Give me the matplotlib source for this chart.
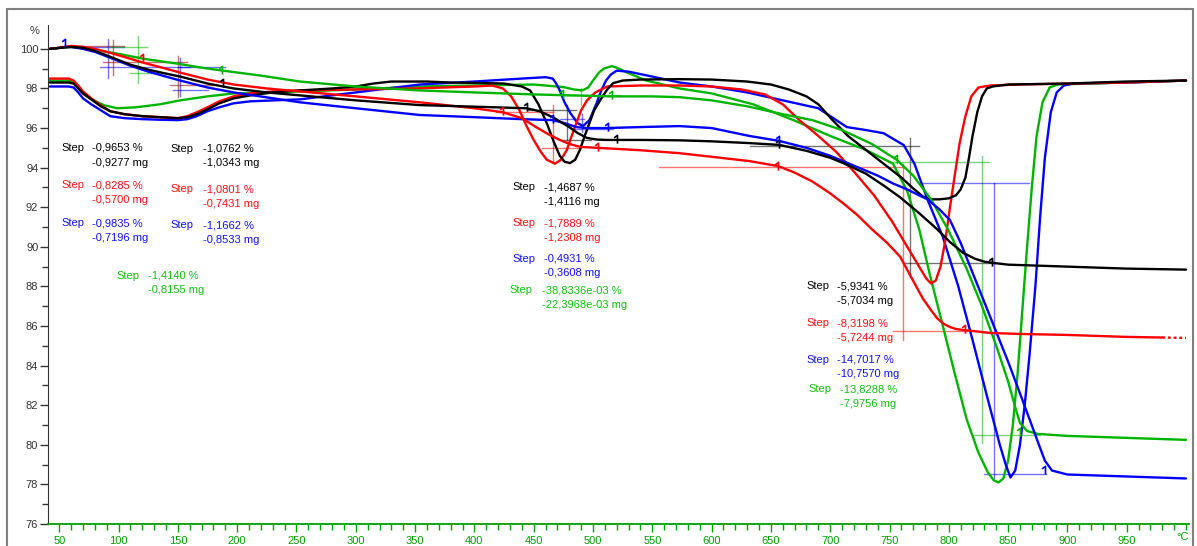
import matplotlib
matplotlib.use('Agg')
import matplotlib.pyplot as plt
from matplotlib.patches import Rectangle
from matplotlib.path import Path

# --- data (temperature in degC, mass in %) ---
# TGA curves
tga_black_t = [42, 50, 60, 70, 80, 93, 110, 125, 140, 152, 175, 197, 225, 253, 300, 354, 400, 444, 455, 466, 473, 480, 487, 495, 503, 511, 540, 573, 600, 632, 657, 680, 700, 711, 730, 745, 759, 775, 790, 801, 812, 822, 830, 836, 850, 900, 950, 1000]
tga_black_y = [100.0, 100.05, 100.1, 100.05, 99.9, 99.6, 99.2, 98.95, 98.75, 98.6, 98.25, 98.0, 97.8, 97.65, 97.4, 97.16, 97.08, 97.0, 96.85, 96.55, 96.3, 96.05, 95.75, 95.5, 95.42, 95.4, 95.4, 95.38, 95.33, 95.24, 95.15, 94.85, 94.5, 94.23, 93.7, 93.1, 92.5, 91.7, 90.9, 90.24, 89.7, 89.4, 89.25, 89.2, 89.1, 89.0, 88.9, 88.85]

tga_red_t = [42, 50, 60, 70, 80, 93, 110, 121, 140, 152, 175, 197, 225, 253, 300, 354, 400, 424, 440, 452, 462, 472, 480, 489, 504, 540, 573, 600, 632, 656, 670, 685, 700, 711, 723, 735, 748, 759, 768, 778, 785, 790, 796, 801, 806, 812, 820, 835, 860, 900, 950, 980, 1000]
tga_red_y = [100.0, 100.05, 100.15, 100.1, 100.0, 99.8, 99.5, 99.3, 99.0, 98.8, 98.45, 98.2, 98.0, 97.85, 97.6, 97.3, 97.0, 96.8, 96.5, 96.05, 95.7, 95.4, 95.2, 95.05, 95.0, 94.88, 94.73, 94.55, 94.33, 94.08, 93.75, 93.3, 92.7, 92.2, 91.6, 90.9, 90.2, 89.5, 88.5, 87.4, 86.8, 86.4, 86.1, 85.95, 85.85, 85.8, 85.75, 85.65, 85.6, 85.55, 85.45, 85.42, 85.4]

tga_blue_t = [42, 50, 55, 60, 70, 80, 93, 110, 125, 140, 152, 175, 197, 225, 253, 300, 354, 400, 440, 466, 476, 486, 495, 511, 540, 573, 600, 632, 657, 680, 700, 720, 740, 753, 765, 775, 782, 792, 801, 810, 820, 830, 840, 850, 860, 868, 876, 881, 887, 900, 950, 1000]
tga_blue_y = [100.0, 100.05, 100.1, 100.1, 100.0, 99.85, 99.55, 99.15, 98.85, 98.6, 98.4, 98.05, 97.8, 97.55, 97.3, 97.0, 96.66, 96.55, 96.45, 96.4, 96.25, 96.05, 96.0, 96.0, 96.05, 96.1, 96.0, 95.6, 95.35, 95.0, 94.6, 94.1, 93.6, 93.2, 92.9, 92.6, 92.4, 91.9, 91.35, 90.2, 88.7, 87.2, 85.7, 84.2, 82.6, 81.3, 80.0, 79.2, 78.7, 78.5, 78.4, 78.3]

tga_green_t = [42, 50, 60, 70, 80, 100, 121, 150, 170, 188, 220, 253, 300, 354, 400, 450, 475, 516, 550, 573, 600, 630, 660, 685, 710, 735, 756, 770, 785, 800, 815, 828, 840, 850, 856, 860, 866, 875, 900, 950, 1000]
tga_green_y = [100.0, 100.05, 100.1, 100.05, 99.95, 99.75, 99.5, 99.25, 99.05, 98.9, 98.65, 98.35, 98.1, 97.9, 97.8, 97.7, 97.66, 97.6, 97.6, 97.56, 97.4, 97.1, 96.7, 96.4, 95.9, 95.2, 94.4, 93.6, 92.4, 90.8, 88.9, 87.0, 85.0, 83.2, 81.9, 81.1, 80.7, 80.55, 80.45, 80.35, 80.25]

# derivative curves
dtg_black_t = [42, 50, 58, 62, 66, 70, 77, 85, 93, 105, 120, 135, 150, 158, 166, 175, 185, 197, 211, 230, 253, 280, 300, 315, 330, 360, 380, 400, 425, 440, 447, 454, 461, 467, 472, 476, 480.6, 485, 489, 493, 497, 501, 506, 512, 517, 525, 540, 573, 600, 630, 650, 665, 680, 690, 702, 715, 730, 745, 760, 770, 778, 784, 792, 800, 806, 810, 814, 817, 820, 824, 828, 832, 837, 850, 900, 950, 1000]
dtg_black_y = [98.3, 98.3, 98.3, 98.25, 98.0, 97.75, 97.45, 97.1, 96.85, 96.7, 96.6, 96.55, 96.5, 96.55, 96.7, 96.95, 97.25, 97.5, 97.65, 97.8, 97.9, 98.0, 98.1, 98.25, 98.35, 98.35, 98.3, 98.28, 98.25, 98.1, 97.9, 97.2, 96.25, 95.3, 94.6, 94.3, 94.23, 94.4, 94.9, 95.6, 96.25, 96.9, 97.4, 97.95, 98.27, 98.4, 98.45, 98.47, 98.45, 98.35, 98.2, 97.95, 97.6, 97.2, 96.4, 95.6, 94.9, 94.2, 93.5, 92.95, 92.55, 92.4, 92.4, 92.45, 92.6, 92.9, 93.5, 94.5, 95.6, 96.8, 97.6, 98.0, 98.1, 98.2, 98.25, 98.35, 98.4]

dtg_red_t = [42, 58, 62, 66, 70, 77, 85, 93, 105, 120, 135, 150, 158, 166, 175, 185, 197, 211, 230, 253, 300, 350, 400, 415, 424, 431, 438, 444, 450, 456, 461, 468, 473, 478, 482, 486, 490, 495, 502, 512, 540, 573, 600, 625, 645, 660, 674, 690, 705, 720, 737, 752, 765, 775, 781, 785, 789, 793, 797, 801, 805, 809, 814, 819, 825, 835, 860, 950, 1000]
dtg_red_y = [98.5, 98.5, 98.4, 98.15, 97.85, 97.5, 97.15, 96.85, 96.7, 96.6, 96.55, 96.5, 96.6, 96.8, 97.05, 97.35, 97.6, 97.75, 97.85, 97.9, 97.95, 98.0, 98.1, 98.15, 98.0, 97.6, 96.9, 96.1, 95.4, 94.8, 94.4, 94.2, 94.4, 94.9, 95.6, 96.25, 96.9, 97.4, 97.8, 98.1, 98.15, 98.15, 98.1, 97.95, 97.7, 97.2, 96.4, 95.6, 94.8, 93.8, 92.6, 91.3, 90.0, 89.0, 88.4, 88.15, 88.3, 89.0, 90.3, 92.0, 93.6, 95.2, 96.6, 97.6, 98.05, 98.15, 98.2, 98.3, 98.4]

dtg_blue_t = [42, 58, 62, 66, 70, 77, 85, 93, 105, 120, 135, 150, 158, 166, 175, 185, 197, 211, 253, 300, 354, 400, 440, 460, 466, 469, 472, 476, 481, 487, 491.6, 497, 503, 507, 511, 515, 520, 530, 550, 573, 600, 630, 660, 690, 714, 730, 745, 762, 771, 782, 795, 808, 820, 832, 843, 848, 852, 856, 860, 864, 868, 873, 877, 881, 886, 891, 897, 905, 950, 1000]
dtg_blue_y = [98.1, 98.1, 98.05, 97.8, 97.5, 97.2, 96.9, 96.6, 96.5, 96.45, 96.42, 96.4, 96.45, 96.6, 96.85, 97.05, 97.25, 97.35, 97.45, 97.8, 98.2, 98.35, 98.5, 98.57, 98.5, 98.25, 97.9, 97.3, 96.75, 96.25, 96.1, 96.4, 97.25, 97.9, 98.4, 98.7, 98.9, 98.85, 98.6, 98.3, 98.1, 97.8, 97.4, 97.0, 96.05, 95.9, 95.74, 95.14, 94.2, 92.4, 90.5, 88.0, 85.3, 82.5, 80.0, 79.0, 78.35, 78.7, 80.0, 82.0, 84.5, 88.0, 91.5, 94.5, 96.8, 97.8, 98.15, 98.25, 98.3, 98.4]

dtg_green_t = [42, 58, 62, 66, 70, 77, 88, 99, 115, 135, 152, 175, 197, 253, 300, 354, 400, 450, 475, 484, 491, 496, 500, 505, 509, 516, 522, 529, 545, 573, 600, 635, 669, 700, 730, 753, 765, 775, 784, 795, 805, 815, 825, 833, 838, 842, 846, 850, 854, 858, 862, 866, 870, 874, 879, 885, 892, 950, 1000]
dtg_green_y = [98.4, 98.4, 98.3, 98.05, 97.75, 97.45, 97.15, 97.0, 97.05, 97.2, 97.4, 97.6, 97.75, 97.85, 97.95, 98.1, 98.15, 98.2, 98.07, 97.95, 97.9, 98.05, 98.4, 98.8, 99.0, 99.13, 99.0, 98.8, 98.4, 98.0, 97.75, 97.2, 96.4, 95.6, 94.9, 94.2, 92.8, 90.9, 88.6, 86.0, 83.6, 81.3, 79.6, 78.6, 78.2, 78.1, 78.3, 79.2, 81.0, 83.6, 86.8, 90.0, 93.0, 95.6, 97.3, 98.05, 98.2, 98.3, 98.4]

colors = {'black': '#000000', 'red': '#ff0000', 'blue': '#0000ff', 'green': '#00b400'}
text_colors = {'black': '#000000', 'red': '#ff1010', 'blue': '#1010ff', 'green': '#10c010'}

# step evaluation crosses: (colour, t_vert, y_top, y_bot, [(t_from, t_to, level), ...])
steps = [
    ('blue', 91, 100.5, 98.55, [(50.6, 105, 100.1), (84, 160, 99.08)]),
    ('darkred', 95, 100.45, 98.7, [(50.6, 105, 100.12), (87, 158, 99.33)]),
    ('green', 116, 100.65, 98.3, [(93, 124, 100.1), (110, 141, 98.78)]),
    ('darkred', 150, 99.63, 97.56, [(143, 180, 98.17)]),
    ('blue', 152, 99.55, 97.6, [(146, 175, 97.92), (150, 190, 99.1)]),
    ('black', 478, 97.15, 95.4, [(444, 486, 96.9), (472, 498, 95.4)]),
    ('red', 466, 97.15, 94.3, [(418, 466, 96.8), (457, 490, 95.0)]),
    ('blue', 491, 96.7, 95.8, [(472, 492, 96.45), (484, 517, 95.95)]),
    ('green', 490, 98.0, 97.15, [(475, 523, 97.66)]),
    ('black', 767, 95.5, 88.5, [(632, 775, 95.09), (761, 839, 89.17)]),
    ('red', 761, 94.2, 85.3, [(556, 763, 94.03), (753, 815, 85.73)]),
    ('green', 828, 94.6, 80.1, [(749, 834, 94.28), (820, 877, 80.5)]),
    ('blue', 838, 93.2, 78.3, [(774, 868, 93.21), (830, 882, 78.51)]),
]

# little evaluation flags sitting on the curves: (colour, t, level)
flags = [
    ('blue', 55, 100.3), ('red', 121, 99.55), ('green', 187, 98.95), ('black', 188, 98.3),
    ('black', 444, 97.05), ('red', 424, 96.85), ('blue', 466, 96.45), ('green', 475, 97.7),
    ('black', 520, 95.45), ('red', 504, 95.05), ('blue', 513, 96.05), ('green', 516, 97.65),
    ('black', 657, 95.2), ('red', 656, 94.1), ('blue', 657, 95.4), ('green', 756, 94.45),
    ('black', 836, 89.25), ('red', 814, 85.85), ('blue', 881, 78.75), ('green', 860, 80.65),
]

# text blocks: (colour, t_step, t_val, y_line1, line1, line2)
labels = [
    ('black', 52, 78, 95.0, '-0,9653 %', '-0,9277 mg'),
    ('red', 52, 78, 93.1, '-0,8285 %', '-0,5700 mg'),
    ('blue', 52, 78, 91.2, '-0,9835 %', '-0,7196 mg'),
    ('black', 144, 171, 94.95, '-1,0762 %', '-1,0343 mg'),
    ('red', 144, 171, 92.9, '-1,0801 %', '-0,7431 mg'),
    ('blue', 144, 171, 91.1, '-1,1662 %', '-0,8533 mg'),
    ('green', 98, 125, 88.55, '-1,4140 %', '-0,8155 mg'),
    ('black', 432, 459, 93.0, '-1,4687 %', '-1,4116 mg'),
    ('red', 432, 459, 91.2, '-1,7889 %', '-1,2308 mg'),
    ('blue', 432, 459, 89.4, '-0,4931 %', '-0,3608 mg'),
    ('green', 430, 457, 87.8, '-38,8336e-03 %', '-22,3968e-03 mg'),
    ('black', 680, 706, 88.0, '-5,9341 %', '-5,7034 mg'),
    ('red', 680, 706, 86.15, '-8,3198 %', '-5,7244 mg'),
    ('blue', 680, 706, 84.3, '-14,7017 %', '-10,7570 mg'),
    ('green', 682, 708, 82.8, '-13,8288 %', '-7,9756 mg'),
]

plt.rcParams['font.family'] = ['Liberation Sans', 'DejaVu Sans']
fig = plt.figure(figsize=(11.97, 5.46), dpi=100)
ax = fig.add_axes([0.0401, 0.0403, 0.9532, 0.9137])

# step crosses drawn first, thin and light
for c, tv, yt, yb, hlines in steps:
    col = colors.get(c, c)
    ax.plot([tv, tv], [yb, yt], color=col, lw=1.0, alpha=0.55)
    for a, b, lev in hlines:
        ax.plot([a, b], [lev, lev], color=col, lw=1.0, alpha=0.55)

curves = [
    (dtg_green_t, dtg_green_y, 'green'),
    (dtg_blue_t, dtg_blue_y, 'blue'),
    (dtg_red_t, dtg_red_y, 'red'),
    (dtg_black_t, dtg_black_y, 'black'),
    (tga_green_t, tga_green_y, 'green'),
    (tga_blue_t, tga_blue_y, 'blue'),
    (tga_red_t[:-1], tga_red_y[:-1], 'red'),
    (tga_black_t, tga_black_y, 'black'),
]
for t, y, c in curves:
    ax.plot(t, y, color=colors[c], lw=1.7, solid_joinstyle='round', solid_capstyle='round')
# the red run ends in a dotted piece
ax.plot(tga_red_t[-2:], tga_red_y[-2:], color=colors['red'], lw=1.7, ls=(0, (1.2, 1.2)))

flag = Path([(0, -1), (0, 1), (-0.8, 0.4)], [Path.MOVETO, Path.LINETO, Path.LINETO])
for c, t, lev in flags:
    ax.plot([t], [lev], marker=flag, ms=6, mew=1.2, mfc='none', mec=colors[c], ls='none')

for c, ts, tv, y1, l1, l2 in labels:
    col = text_colors[c]
    ax.text(ts, y1, 'Step', color=col, fontsize=8, va='center')
    ax.text(tv, y1, l1, color=col, fontsize=8, va='center')
    ax.text(tv, y1 - 0.74, l2, color=col, fontsize=8, va='center')

ax.set_xlim(40.5, 1002.5)
ax.set_ylim(76, 101.2)
for s in ['top', 'right']:
    ax.spines[s].set_visible(False)
ax.spines['left'].set_color('#333333')
ax.spines['bottom'].set_color('#00a000')
ax.spines['bottom'].set_linewidth(1.3)

ax.set_yticks(range(76, 101, 2))
ax.set_yticks(range(77, 101, 2), minor=True)
ax.set_xticks(range(50, 1000, 50))
ax.set_xticks(range(50, 1001, 10), minor=True)
ax.tick_params(axis='y', which='major', length=6, width=1, colors='#333333', labelsize=8, pad=1)
ax.tick_params(axis='y', which='minor', length=4, width=1, colors='#333333')
ax.tick_params(axis='x', which='major', length=6, width=1, colors='#00a000', labelsize=8, pad=3)
ax.tick_params(axis='x', which='minor', length=4, width=1, colors='#00a000')

fig.text(35 / 1197, 1 - 31 / 546, '%', fontsize=8, ha='center', va='center', color='#333333')
fig.text(1183 / 1197, 1 - 537 / 546, '°C', fontsize=8, ha='center', va='center', color='#00a000')

fig.patches.append(Rectangle((7 / 1197, -0.01), 1186 / 1197, 1 - 9 / 546 + 0.01, transform=fig.transFigure,
                             fill=False, edgecolor='#808080', lw=1.5))

fig.savefig('out.png', dpi=100)
